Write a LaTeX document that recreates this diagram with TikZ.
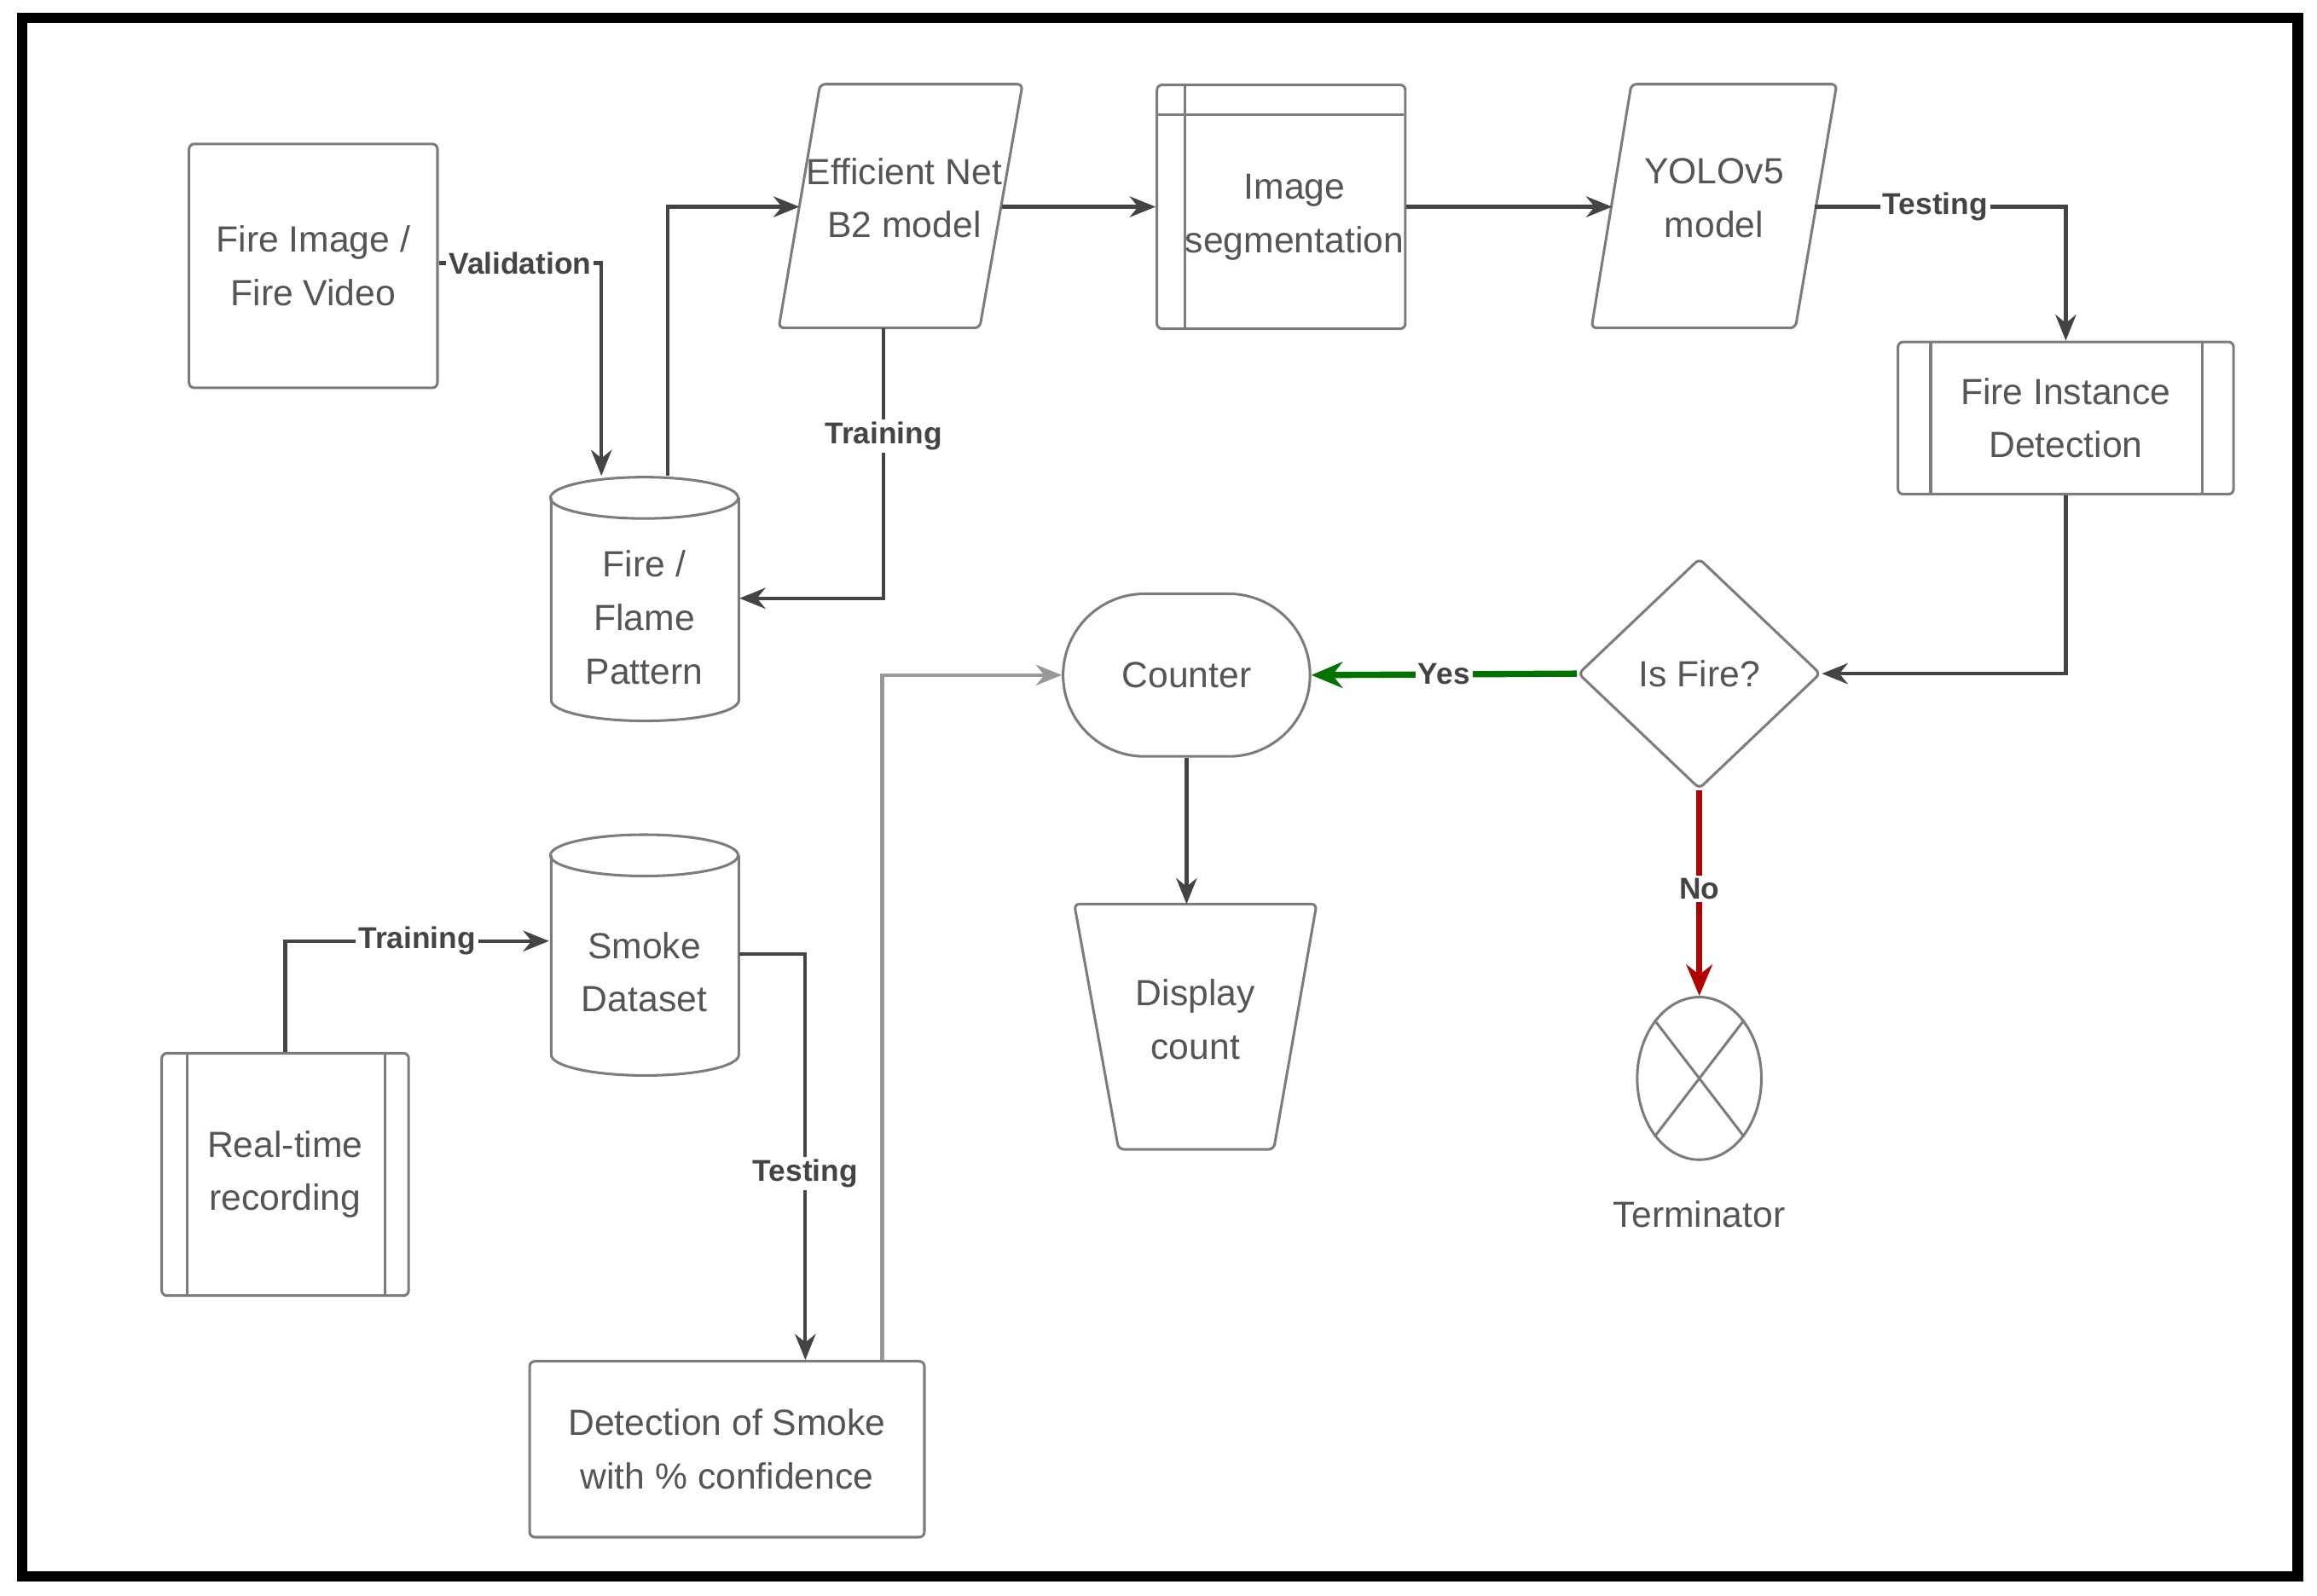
\documentclass[tikz,border=0pt]{standalone}
\usepackage{fontspec}
\setmainfont{Liberation Sans}
\usetikzlibrary{shapes.geometric,arrows.meta}
\definecolor{txt}{HTML}{555555}
\definecolor{ln}{HTML}{444444}
\begin{document}
\begin{tikzpicture}[x=0.01cm,y=-0.01cm,
  box/.style={draw=ln!70,line width=0.5pt,rounded corners=1pt,align=center,text=txt,font=\fontsize{7}{10.3}\selectfont,inner sep=0pt},
  tx/.style={align=center,text=txt,font=\fontsize{7}{10.3}\selectfont,inner sep=0pt},
  outl/.style={draw=ln!70,line width=0.5pt},
  lbl/.style={font=\bfseries\fontsize{5.8}{7}\selectfont,text=ln,fill=white,inner sep=0.5pt},
  con/.style={draw=ln,line width=0.7pt,-{Stealth[length=5pt,width=4pt]}}]
\useasboundingbox (0,0) rectangle (1568,1080);
\draw[line width=2pt] (15,12) rectangle (1555,1067);

\node[box,minimum width=1.68cm,minimum height=1.65cm] (fi) at (212,180) {Fire Image /\\Fire Video};
\node[box,draw=none,minimum width=1.27cm,minimum height=1.65cm] (fp) at (436,405.5) {};
\draw[outl] (436,337) ellipse [x radius=63.5,y radius=14];
\draw[outl] (373,337) -- (373,474) arc[start angle=180,end angle=0,x radius=63.5,y radius=14] -- (500,337);
\node[tx] at (436,418) {Fire /\\Flame\\Pattern};
\draw[box] (555,57)--(692,57)--(663,222)--(527,222)--cycle;
\node[box,draw=none,minimum width=1.37cm,minimum height=1.65cm] (en) at (609,140) {};
\node[tx] at (612,134) {Efficient Net\\B2 model};
\node[box,minimum width=1.68cm,minimum height=1.65cm] (is) at (867,140) {};
\node[tx] at (876,147) {Image\\segmentation};
\draw[outl] (is.north west)+(20,0) -- ++(20,165) (is.north west)+(0,21) -- ++(168,21);
\draw[box] (1104,57)--(1243,57)--(1215,222)--(1077,222)--cycle;
\node[box,draw=none,minimum width=1.38cm,minimum height=1.65cm] (yo) at (1160,140) {};
\node[tx] at (1160,134) {YOLOv5\\model};
\node[box,minimum width=2.27cm,minimum height=1.03cm] (fd) at (1398,283) {Fire Instance\\Detection};
\draw[outl] (fd.north west)+(23,0) -- ++(23,103) (fd.north east)+(-22,0) -- ++(-22,103);
\node[box,diamond,minimum width=1.64cm,minimum height=1.56cm] (df) at (1150,456) {Is Fire?};
\node[box,rounded corners=0.55cm,minimum width=1.67cm,minimum height=1.1cm] (ct) at (803,457) {Counter};
\draw[box] (727,612)--(891,612)--(862,778)--(757,778)--cycle;
\node[box,draw=none,minimum width=1.64cm,minimum height=1.66cm] (dc) at (809,695) {};
\node[tx] at (809,690) {Display\\count};
\node[box,ellipse,minimum width=0.84cm,minimum height=1.1cm] (tm) at (1150,730) {};
\draw[outl] (tm.north west)--(tm.south east) (tm.north east)--(tm.south west);
\node[tx] at (1150,822) {Terminator};
\node[box,draw=none,minimum width=1.27cm,minimum height=1.63cm] (sd) at (436,646.5) {};
\draw[outl] (436,579) ellipse [x radius=63.5,y radius=14];
\draw[outl] (373,579) -- (373,714) arc[start angle=180,end angle=0,x radius=63.5,y radius=14] -- (500,579);
\node[tx] at (436,658) {Smoke\\Dataset};
\node[box,minimum width=1.67cm,minimum height=1.64cm] (rt) at (193,795) {Real-time\\recording};
\draw[outl] (rt.north west)+(18,0) -- ++(18,164) (rt.north east)+(-17,0) -- ++(-17,164);
\node[box,minimum width=2.67cm,minimum height=1.19cm] (ds) at (492,981) {Detection of Smoke\\with \% confidence};

\draw[con] (fi.east|-0,178) -| node[lbl,pos=0.25]{Validation} (fp.north-|407,0);
\draw[con] (fp.north-|452,0) |- (541,140);
\draw[con] (598,222) |- node[lbl,pos=0.2]{Training} (fp.east|-0,405);
\draw[con] (678,140) -- (is.west|-0,140);
\draw[con] (is.east|-0,140) -- (1091,140);
\draw[con] (1228,140) -| node[lbl,pos=0.24]{Testing} (fd.north);
\draw[con] (fd.south) |- (df.east);
\draw[draw=green!45!black,line width=1.2pt,-{Stealth[length=6pt,width=5pt]}] (df.west) -- node[lbl]{Yes} (ct.east);
\draw[draw=red!70!black,line width=1.2pt,-{Stealth[length=6pt,width=5pt]}] (df.south) -- node[lbl,pos=0.48]{No} (tm.north);
\draw[con] (ct.south) -- (803,612);
\draw[con] (rt.north) |- node[lbl,pos=0.75]{Training} (sd.west|-0,637);
\draw[con] (sd.east|-0,646) -| node[lbl,pos=0.77]{Testing} (ds.north-|545,0);
\draw[con,draw=ln!55] (ds.north-|597,0) |- (ct.west);
\end{tikzpicture}
\end{document}
